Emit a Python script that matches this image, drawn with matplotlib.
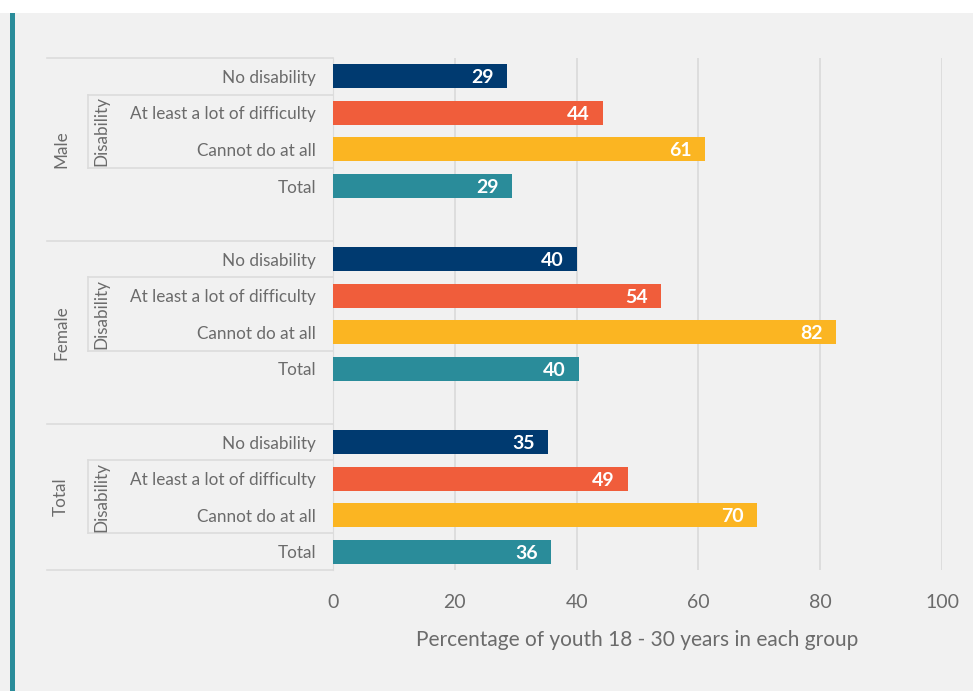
import matplotlib
matplotlib.use('Agg')
import matplotlib.pyplot as plt
from matplotlib.transforms import blended_transform_factory

plt.rcParams['font.family'] = ['Lato', 'DejaVu Sans']

# --- Data ---
groups = ["Male", "Female", "Total"]
row_labels = ["No disability", "At least a lot of difficulty", "Cannot do at all", "Total"]
male = [28.6, 44.3, 61.1, 29.4]
female = [40.1, 53.9, 82.6, 40.4]
total = [35.3, 48.4, 69.6, 35.8]
shown_male = [29, 44, 61, 29]
shown_female = [40, 54, 82, 40]
shown_total = [35, 49, 70, 36]

colors = ["#003a70", "#f05d3b", "#fbb522", "#2a8c9a"]
bg = "#f1f1f1"
txt = "#6b6b6b"
line_c = "#dcdcdc"

fig = plt.figure(figsize=(9.73, 6.91), dpi=100)
fig.patch.set_facecolor("white")
# gray panel + teal stripe
fig.add_artist(plt.Rectangle((0, 0), 1, 1 - 13 / 691, transform=fig.transFigure,
                             facecolor=bg, edgecolor="none", zorder=0))
fig.add_artist(plt.Rectangle((10 / 973, 0), 5 / 973, 1 - 13 / 691, transform=fig.transFigure,
                             facecolor="#2a8c9a", edgecolor="none", zorder=1))

ax = fig.add_axes([333 / 973, 1 - 570 / 691, (942 - 333) / 973, (570 - 58) / 691])
ax.set_facecolor(bg)

starts = [0, 5, 10]
for g, (vals, shown) in enumerate(zip([male, female, total], [shown_male, shown_female, shown_total])):
    s = starts[g]
    for i in range(4):
        y = s + i
        ax.barh(y, vals[i], height=0.66, color=colors[i], zorder=3)
        ax.text(vals[i] - 2.2, y, str(shown[i]), ha="right", va="center_baseline",
                color="white", fontsize=14, fontweight="bold", zorder=4)

ax.set_ylim(13.5, -0.5)
ax.set_xlim(0, 100)
ax.set_xticks([0, 20, 40, 60, 80, 100])
ax.set_yticks([])
ax.tick_params(axis="x", length=0, labelsize=14, labelcolor=txt, pad=17)
ax.grid(axis="x", color="#dadada", linewidth=1.2, zorder=0)
for side in ["top", "right", "bottom"]:
    ax.spines[side].set_visible(False)
ax.spines["left"].set_color(line_c)
ax.set_xlabel("Percentage of youth 18 - 30 years in each group", fontsize=15,
              color=txt, labelpad=14)

# --- hierarchical y labels ---
tr = blended_transform_factory(fig.transFigure, ax.transData)
fx = lambda px: px / 973
bounds = [(-0.5, 4.5), (4.5, 9.5), (9.5, 13.5)]
for g, s in enumerate(starts):
    top, bot = bounds[g]
    ax.plot([fx(47), fx(333)], [top, top], transform=tr, color=line_c, lw=1.2, clip_on=False)
    ax.plot([fx(88), fx(333)], [s + 0.5, s + 0.5], transform=tr, color=line_c, lw=1.2, clip_on=False)
    ax.plot([fx(88), fx(333)], [s + 2.5, s + 2.5], transform=tr, color=line_c, lw=1.2, clip_on=False)
    ax.plot([fx(88), fx(88)], [s + 0.5, s + 2.5], transform=tr, color=line_c, lw=1.2, clip_on=False)
    for i, lab in enumerate(row_labels):
        ax.text(fx(316), s + i, lab, transform=tr, ha="right", va="center_baseline",
                fontsize=12.3, color=txt)
    ax.text(fx(61), (top + bot) / 2, groups[g], transform=tr, rotation=90,
            ha="center", va="center", fontsize=12.3, color=txt)
    ax.text(fx(101), s + 1.5, "Disability", transform=tr, rotation=90,
            ha="center", va="center", fontsize=12.3, color=txt)
ax.plot([fx(47), fx(333)], [13.5, 13.5], transform=tr, color=line_c, lw=1.2, clip_on=False)

fig.savefig("out.png", dpi=100, facecolor=fig.get_facecolor())
